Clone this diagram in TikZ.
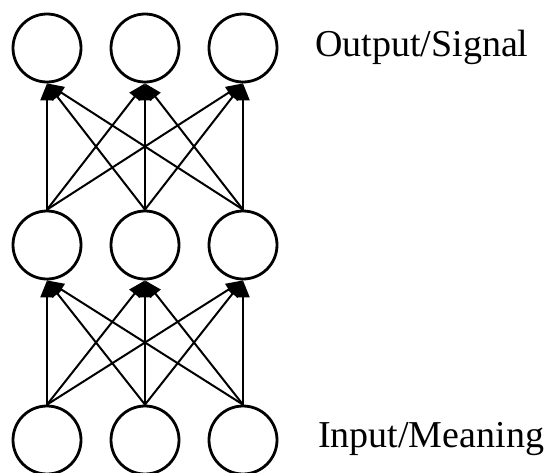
\documentclass[tikz,border=0pt]{standalone}
\usepackage{fontspec}
\setmainfont{Liberation Serif}
\usetikzlibrary{arrows.meta}
\begin{document}
\begin{tikzpicture}[x=1pt,y=-1pt,
  unit/.style={circle,draw,line width=2.8pt,minimum size=68pt,inner sep=0pt},
  conn/.style={line width=2pt,-{Triangle[length=17pt,width=13pt]}},
  lab/.style={anchor=base west,font=\fontsize{38}{44}\selectfont,inner sep=0pt}]
\useasboundingbox (0,0) rectangle (552,472);
\foreach \c/\x in {1/47,2/145,3/243}{
  \node[unit] (t\c) at (\x,48) {};
  \node[unit] (m\c) at (\x,245) {};
  \node[unit] (b\c) at (\x,440) {};
}
\foreach \i in {1,2,3}{
  \foreach \j in {1,2,3}{
    \draw[conn] (m\i.north) -- (t\j.south);
    \draw[conn] (b\i.north) -- (m\j.south);
  }
}
\node[lab] (out) at (315,56) {Output/Signal};
\node[lab] (in) at (318,447) {Input/Meaning};
\end{tikzpicture}
\end{document}
